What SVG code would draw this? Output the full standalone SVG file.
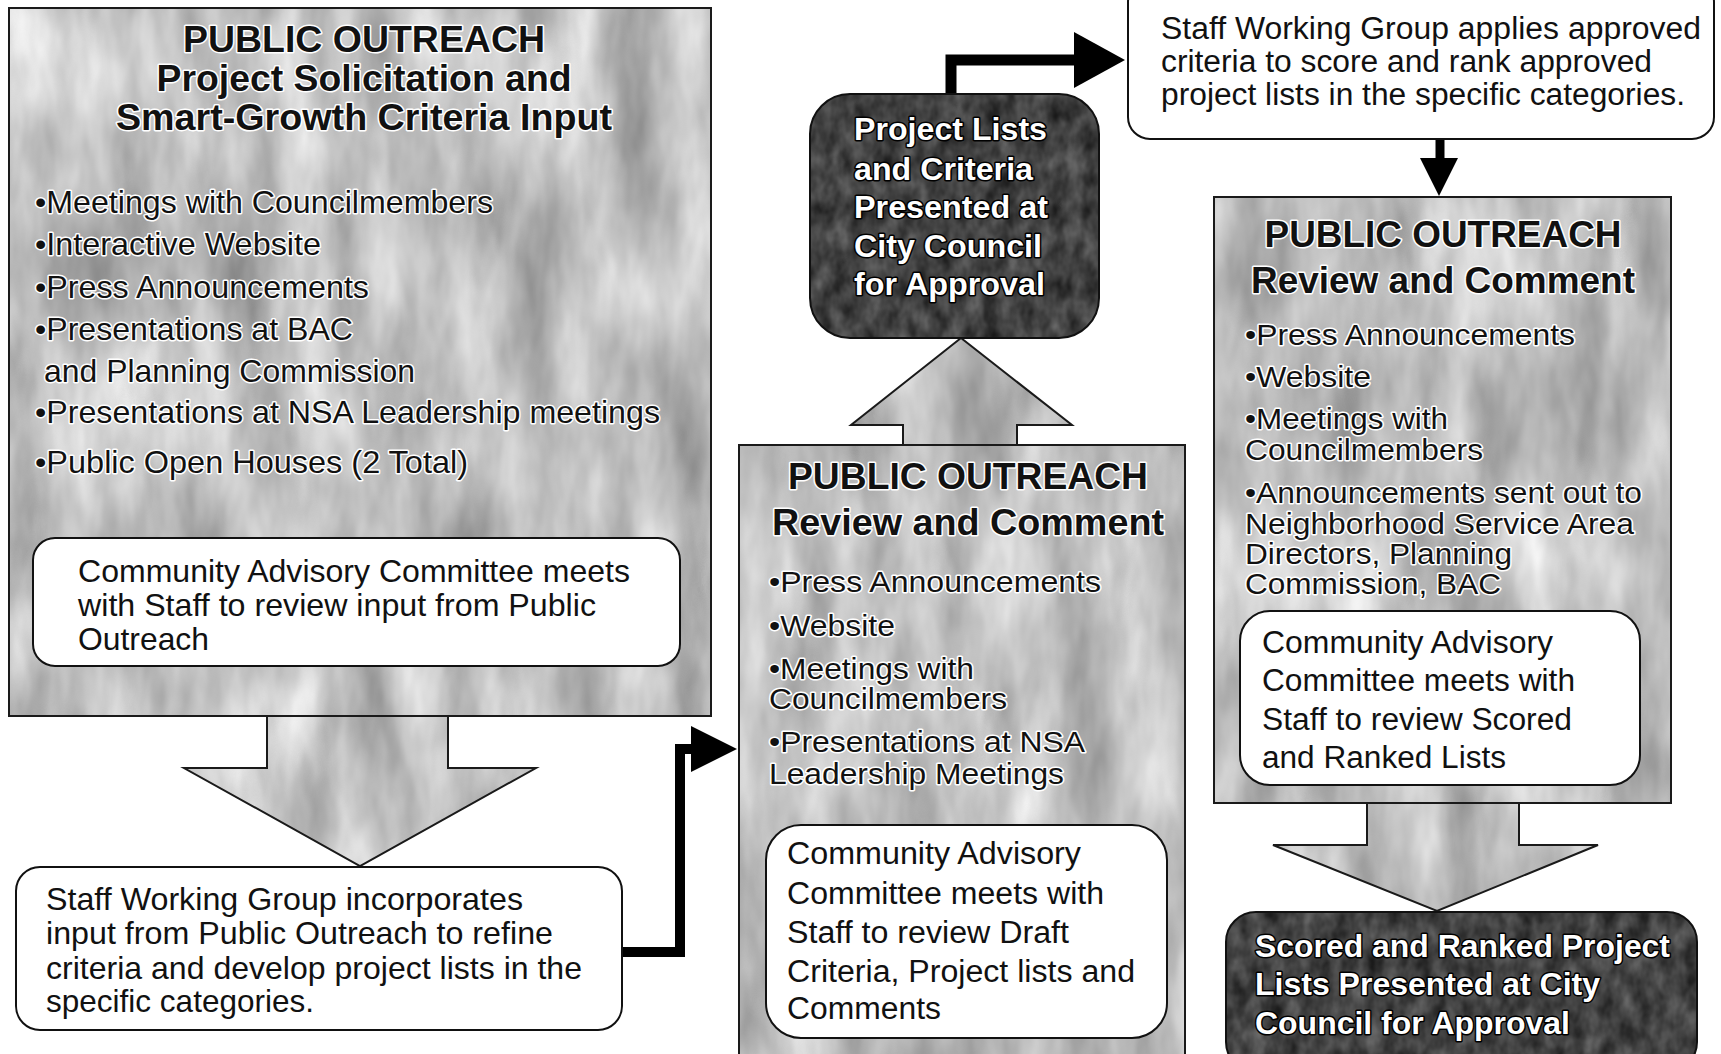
<svg xmlns="http://www.w3.org/2000/svg" width="1721" height="1054" viewBox="0 0 1721 1054">
<defs>
<filter id="mottle" x="0" y="0" width="100%" height="100%" color-interpolation-filters="sRGB">
<feTurbulence type="fractalNoise" baseFrequency="0.018 0.006" numOctaves="4" seed="5" result="n"/>
<feColorMatrix in="n" type="matrix" values="0.5 0 0 0 0.5  0.5 0 0 0 0.5  0.5 0 0 0 0.5  0 0 0 0 1" result="g"/>
<feComposite in="g" in2="SourceAlpha" operator="in"/>
</filter>
<filter id="dark" x="0" y="0" width="100%" height="100%" color-interpolation-filters="sRGB">
<feTurbulence type="fractalNoise" baseFrequency="0.06 0.04" numOctaves="3" seed="9" result="n"/>
<feColorMatrix in="n" type="matrix" values="0.4 0 0 0 0.06  0.4 0 0 0 0.06  0.4 0 0 0 0.06  0 0 0 0 1" result="g"/>
<feComposite in="g" in2="SourceAlpha" operator="in"/>
</filter>
<style>
.gray{fill:#000;filter:url(#mottle)}
.drk{fill:#000;filter:url(#dark)}
.edge{fill:none;stroke:#1a1a1a;stroke-width:2}
.wbox{fill:#fff;stroke:#111;stroke-width:2}
.nar{font-family:"Liberation Sans Narrow","Liberation Sans",Arial,sans-serif}
.wid{font-family:"Liberation Sans",Arial,sans-serif}
.b{font-weight:bold}
.halo{fill:#111;stroke:#fff;stroke-width:3;paint-order:stroke;stroke-linejoin:round}
.inv{fill:#fff;stroke:#000;stroke-width:3;paint-order:stroke;stroke-linejoin:round}
.plain{fill:#111}
.conn{fill:none;stroke:#000;stroke-linejoin:miter}
.head{fill:#000}
</style>
</defs>
<rect width="1721" height="1054" fill="#fff"/>

<g id="connectors">
<g id="block-arrow-left">
<polygon class="gray" points="267,716 448,716 448,768 536,768 360,866 184,768 267,768"/>
<polyline class="edge" points="448,716 448,768 536,768 360,866 184,768 267,768 267,716"/>
</g>
<g id="block-arrow-up">
<polygon class="gray" points="903,445 903,425 851,425 961,338 1072,425 1017,425 1017,445"/>
<polyline class="edge" points="903,445 903,425 851,425 961,338 1072,425 1017,425 1017,445"/>
</g>
<g id="block-arrow-right">
<polygon class="gray" points="1367,803 1367,845 1273,845 1437,911 1598,845 1519,845 1519,803"/>
<polyline class="edge" points="1367,803 1367,845 1273,845 1437,911 1598,845 1519,845 1519,803"/>
</g>
<path class="conn" d="M622,952 H680 V749 H695" stroke-width="10"/>
<polygon class="head" points="691,726 737,749 691,772"/>
<path class="conn" d="M951,95 V60 H1078" stroke-width="11"/>
<polygon class="head" points="1074,32 1125,60 1074,88"/>
<path class="conn" d="M1440,139 V160" stroke-width="9"/>
<polygon class="head" points="1420,158 1458,158 1439,196"/>
</g>

<g id="node-left-outreach">
<rect class="gray" x="9" y="8" width="702" height="708"/>
<rect class="edge" x="9" y="8" width="702" height="708"/>
<g class="nar b halo" font-size="36" text-anchor="middle">
<text x="364" y="52" textLength="362" lengthAdjust="spacingAndGlyphs">PUBLIC OUTREACH</text>
<text x="364" y="91" textLength="415" lengthAdjust="spacingAndGlyphs">Project Solicitation and</text>
<text x="364" y="130" textLength="496" lengthAdjust="spacingAndGlyphs">Smart-Growth Criteria Input</text>
</g>
<g class="nar halo" font-size="32">
<text x="35" y="213" textLength="458" lengthAdjust="spacingAndGlyphs">•Meetings with Councilmembers</text>
<text x="35" y="255" textLength="286" lengthAdjust="spacingAndGlyphs">•Interactive Website</text>
<text x="35" y="298" textLength="334" lengthAdjust="spacingAndGlyphs">•Press Announcements</text>
<text x="35" y="340" textLength="318" lengthAdjust="spacingAndGlyphs">•Presentations at BAC</text>
<text x="44" y="382" textLength="371" lengthAdjust="spacingAndGlyphs">and Planning Commission</text>
<text x="35" y="423" textLength="625" lengthAdjust="spacingAndGlyphs">•Presentations at NSA Leadership meetings</text>
<text x="35" y="473" textLength="433" lengthAdjust="spacingAndGlyphs">•Public Open Houses (2 Total)</text>
</g>
</g>

<g id="node-left-cac">
<rect class="wbox" x="33" y="538" width="647" height="128" rx="22"/>
<g class="nar plain" font-size="32">
<text x="78" y="582" textLength="552" lengthAdjust="spacingAndGlyphs">Community Advisory Committee meets</text>
<text x="78" y="616" textLength="518" lengthAdjust="spacingAndGlyphs">with Staff to review input from Public</text>
<text x="78" y="650" textLength="131" lengthAdjust="spacingAndGlyphs">Outreach</text>
</g>
</g>

<g id="node-staff-incorporates">
<rect class="wbox" x="16" y="867" width="606" height="163" rx="24"/>
<g class="nar plain" font-size="32">
<text x="46" y="910" textLength="477" lengthAdjust="spacingAndGlyphs">Staff Working Group incorporates</text>
<text x="46" y="944" textLength="507" lengthAdjust="spacingAndGlyphs">input from Public Outreach to refine</text>
<text x="46" y="979" textLength="536" lengthAdjust="spacingAndGlyphs">criteria and develop project lists in the</text>
<text x="46" y="1012" textLength="268" lengthAdjust="spacingAndGlyphs">specific categories.</text>
</g>
</g>

<g id="node-middle-outreach">
<rect class="gray" x="739" y="445" width="446" height="620"/>
<rect class="edge" x="739" y="445" width="446" height="620"/>
<g class="wid b halo" font-size="36" text-anchor="middle">
<text x="968" y="489" textLength="360" lengthAdjust="spacingAndGlyphs">PUBLIC OUTREACH</text>
<text x="968" y="535" textLength="392" lengthAdjust="spacingAndGlyphs">Review and Comment</text>
</g>
<g class="wid halo" font-size="29">
<text x="769" y="592" textLength="332" lengthAdjust="spacingAndGlyphs">•Press Announcements</text>
<text x="769" y="636" textLength="126" lengthAdjust="spacingAndGlyphs">•Website</text>
<text x="769" y="679" textLength="205" lengthAdjust="spacingAndGlyphs">•Meetings with</text>
<text x="769" y="709" textLength="238" lengthAdjust="spacingAndGlyphs">Councilmembers</text>
<text x="769" y="752" textLength="316" lengthAdjust="spacingAndGlyphs">•Presentations at NSA</text>
<text x="769" y="784" textLength="295" lengthAdjust="spacingAndGlyphs">Leadership Meetings</text>
</g>
</g>

<g id="node-middle-cac">
<rect class="wbox" x="766" y="825" width="401" height="213" rx="35"/>
<g class="wid plain" font-size="31">
<text x="787" y="864" textLength="294" lengthAdjust="spacingAndGlyphs">Community Advisory</text>
<text x="787" y="904" textLength="317" lengthAdjust="spacingAndGlyphs">Committee meets with</text>
<text x="787" y="943" textLength="282" lengthAdjust="spacingAndGlyphs">Staff to review Draft</text>
<text x="787" y="982" textLength="348" lengthAdjust="spacingAndGlyphs">Criteria, Project lists and</text>
<text x="787" y="1019" textLength="154" lengthAdjust="spacingAndGlyphs">Comments</text>
</g>
</g>

<g id="node-council-approval-1">
<rect class="drk" x="810" y="94" width="289" height="244" rx="40"/>
<rect x="810" y="94" width="289" height="244" rx="40" fill="none" stroke="#111" stroke-width="2"/>
<g class="nar b inv" font-size="31">
<text x="854" y="140" textLength="193" lengthAdjust="spacingAndGlyphs">Project Lists</text>
<text x="854" y="180" textLength="179" lengthAdjust="spacingAndGlyphs">and Criteria</text>
<text x="854" y="218" textLength="194" lengthAdjust="spacingAndGlyphs">Presented at</text>
<text x="854" y="257" textLength="188" lengthAdjust="spacingAndGlyphs">City Council</text>
<text x="854" y="295" textLength="191" lengthAdjust="spacingAndGlyphs">for Approval</text>
</g>
</g>

<g id="node-staff-applies">
<rect class="wbox" x="1128" y="-20" width="586" height="159" rx="22"/>
<g class="nar plain" font-size="31">
<text x="1161" y="39" textLength="540" lengthAdjust="spacingAndGlyphs">Staff Working Group applies approved</text>
<text x="1161" y="72" textLength="491" lengthAdjust="spacingAndGlyphs">criteria to score and rank approved</text>
<text x="1161" y="105" textLength="524" lengthAdjust="spacingAndGlyphs">project lists in the specific categories.</text>
</g>
</g>

<g id="node-right-outreach">
<rect class="gray" x="1214" y="197" width="457" height="606"/>
<rect class="edge" x="1214" y="197" width="457" height="606"/>
<g class="wid b halo" font-size="36" text-anchor="middle">
<text x="1443" y="247" textLength="357" lengthAdjust="spacingAndGlyphs">PUBLIC OUTREACH</text>
<text x="1443" y="293" textLength="384" lengthAdjust="spacingAndGlyphs">Review and Comment</text>
</g>
<g class="wid halo" font-size="29">
<text x="1245" y="345" textLength="330" lengthAdjust="spacingAndGlyphs">•Press Announcements</text>
<text x="1245" y="387" textLength="126" lengthAdjust="spacingAndGlyphs">•Website</text>
<text x="1245" y="429" textLength="203" lengthAdjust="spacingAndGlyphs">•Meetings with</text>
<text x="1245" y="460" textLength="238" lengthAdjust="spacingAndGlyphs">Councilmembers</text>
<text x="1245" y="503" textLength="397" lengthAdjust="spacingAndGlyphs">•Announcements sent out to</text>
<text x="1245" y="534" textLength="389" lengthAdjust="spacingAndGlyphs">Neighborhood Service Area</text>
<text x="1245" y="564" textLength="267" lengthAdjust="spacingAndGlyphs">Directors, Planning</text>
<text x="1245" y="594" textLength="256" lengthAdjust="spacingAndGlyphs">Commission, BAC</text>
</g>
</g>

<g id="node-right-cac">
<rect class="wbox" x="1240" y="611" width="400" height="174" rx="30"/>
<g class="wid plain" font-size="31">
<text x="1262" y="653" textLength="291" lengthAdjust="spacingAndGlyphs">Community Advisory</text>
<text x="1262" y="691" textLength="313" lengthAdjust="spacingAndGlyphs">Committee meets with</text>
<text x="1262" y="730" textLength="310" lengthAdjust="spacingAndGlyphs">Staff to review Scored</text>
<text x="1262" y="768" textLength="244" lengthAdjust="spacingAndGlyphs">and Ranked Lists</text>
</g>
</g>

<g id="node-council-approval-2">
<rect class="drk" x="1226" y="912" width="471" height="160" rx="30"/>
<rect x="1226" y="912" width="471" height="160" rx="30" fill="none" stroke="#111" stroke-width="2"/>
<g class="wid b inv" font-size="32">
<text x="1255" y="957" textLength="415" lengthAdjust="spacingAndGlyphs">Scored and Ranked Project</text>
<text x="1255" y="995" textLength="345" lengthAdjust="spacingAndGlyphs">Lists Presented at City</text>
<text x="1255" y="1034" textLength="315" lengthAdjust="spacingAndGlyphs">Council for Approval</text>
</g>
</g>
</svg>
